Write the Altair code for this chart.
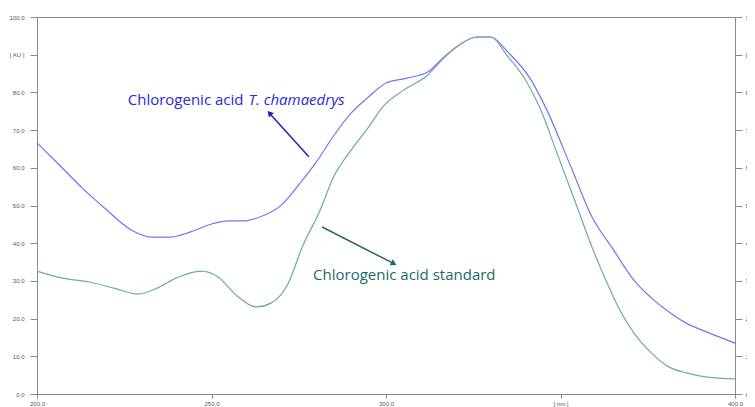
import altair as alt
import pandas as pd

# wavelength (nm) and absorbance (AU)
blue_x = [200, 207, 213, 220, 227, 233, 238, 244, 250, 255, 259, 264, 270, 275, 280, 285, 290, 295,
          300, 306, 312, 316, 321, 326, 330, 335, 341, 346, 353, 359, 365, 371, 376, 381, 386, 392, 400]
blue_y = [66.6, 60.2, 54.6, 48.8, 43.5, 41.6, 41.6, 43.0, 45.1, 45.9, 45.9, 47.0, 50.1, 55.5, 61.5,
          68.5, 74.5, 78.8, 82.5, 83.8, 85.4, 88.9, 92.6, 94.7, 94.7, 90.6, 84.1, 75.5, 60.2, 47.0,
          38.5, 30.2, 25.5, 21.8, 18.8, 16.4, 13.5]
teal_x = [200, 207, 215, 222, 229, 234, 240, 247, 252, 257, 263, 267, 272, 276, 281, 285, 290, 295,
          299, 305, 312, 316, 321, 326, 330, 335, 340, 344, 349, 355, 359, 363, 367, 371, 376, 381,
          386, 392, 400]
teal_y = [32.6, 30.8, 29.7, 28.1, 26.5, 27.9, 30.8, 32.6, 31.0, 26.3, 23.1, 24.1, 29.4, 39.0, 48.5,
          57.6, 64.7, 70.8, 76.1, 80.6, 84.6, 88.6, 92.6, 94.7, 94.7, 89.4, 83.3, 76.1, 63.9, 49.0,
          39.0, 30.2, 22.3, 16.2, 10.9, 7.2, 5.6, 4.5, 4.0]

x_ticks = [200, 250, 300, 350, 400]
y_ticks = [0, 10, 20, 30, 40, 50, 60, 70, 80, 90, 100]

# annotation texts and arrow endpoints (data units)
label_plain = ["Chlorogenic acid"]
label_italic = ["T. chamaedrys"]
label_std = ["Chlorogenic acid standard"]
arrow_blue = {"x": [277.9], "y": [62.9], "x2": [266.8], "y2": [74.3]}
arrow_teal = {"x": [281.7], "y": [44.3], "x2": [302.0], "y2": [34.7]}

BLUE_LINE = "#7474ee"
TEAL_LINE = "#6aada6"
BLUE_TXT = "#2a2ad4"
TEAL_TXT = "#1d6a65"
AXIS = "#8a8a8a"
FS = 15

xs = alt.Scale(domain=[200, 400], nice=False, zero=False)
ys = alt.Scale(domain=[0, 100], nice=False)

x_lab = "datum.value == 350 ? '[ nm ]' : format(datum.value, '.1f')"
y_lab = "datum.value == 90 ? '[ AU ]' : format(datum.value, '.1f')"

ax_common = dict(domainColor=AXIS, tickColor=AXIS, labelColor="#555", labelFontSize=6,
                 labelFont="Liberation Sans", grid=False, title=None, labelFlush=False,
                 labelOverlap=False)

x_axis = alt.Axis(values=x_ticks, labelExpr=x_lab, tickSize=4, labelPadding=2, **ax_common)
y_left = alt.Axis(values=y_ticks, labelExpr=y_lab, tickSize=7, labelPadding=6, orient="left",
                  **ax_common)
y_right = alt.Axis(values=y_ticks, labelExpr=y_lab, tickSize=7, labelPadding=3, orient="right",
                   **ax_common)

blue_df = pd.DataFrame({"x": blue_x, "y": blue_y})
teal_df = pd.DataFrame({"x": teal_x, "y": teal_y})


def X(f="x:Q"):
    return alt.X(f, scale=xs, axis=x_axis)


def Y(f="y:Q"):
    return alt.Y(f, scale=ys, axis=y_left)


blue_line = alt.Chart(blue_df).mark_line(color=BLUE_LINE, strokeWidth=1.2,
                                         interpolate="monotone").encode(x=X(), y=Y())
teal_line = alt.Chart(teal_df).mark_line(color=TEAL_LINE, strokeWidth=1.2,
                                         interpolate="monotone").encode(x=X(), y=Y())

ab = pd.DataFrame(arrow_blue)
at = pd.DataFrame(arrow_teal)
blue_arrow = alt.Chart(ab).mark_rule(color="#2424b8", strokeWidth=1.5).encode(
    x=X(), y=Y(), x2="x2:Q", y2="y2:Q")
blue_head = alt.Chart(ab).mark_point(shape="triangle", filled=True, size=45, angle=318,
                                     color="#2424b8", opacity=1).encode(x=X("x2:Q"), y=Y("y2:Q"))
teal_arrow = alt.Chart(at).mark_rule(color=TEAL_TXT, strokeWidth=1.5).encode(
    x=X(), y=Y(), x2="x2:Q", y2="y2:Q")
teal_head = alt.Chart(at).mark_point(shape="triangle", filled=True, size=45, angle=117,
                                     color=TEAL_TXT, opacity=1).encode(x=X("x2:Q"), y=Y("y2:Q"))

lbl1 = alt.Chart(pd.DataFrame({"t": label_plain, "x": [226.0], "y": [76.7]})).mark_text(
    align="left", baseline="alphabetic", font="Open Sans", fontSize=FS, color=BLUE_TXT).encode(
    x=X(), y=Y(), text="t:N")
lbl2 = alt.Chart(pd.DataFrame({"t": label_italic, "x": [260.6], "y": [76.7]})).mark_text(
    align="left", baseline="alphabetic", font="Open Sans", fontSize=FS, fontStyle="italic",
    color=BLUE_TXT).encode(x=X(), y=Y(), text="t:N")
lbl3 = alt.Chart(pd.DataFrame({"t": label_std, "x": [279.1], "y": [30.2]})).mark_text(
    align="left", baseline="alphabetic", font="Open Sans", fontSize=FS, color=TEAL_TXT).encode(
    x=X(), y=Y(), text="t:N")

main = alt.layer(blue_line, teal_line, blue_arrow, blue_head, teal_arrow, teal_head, lbl1, lbl2, lbl3)

# right-hand copy of the absorbance axis
right_axis = alt.Chart(teal_df).mark_line(opacity=0).encode(
    x=alt.X("x:Q", scale=xs, axis=x_axis),
    y=alt.Y("y:Q", scale=ys, axis=y_right))

chart = alt.layer(main, right_axis).resolve_scale(y="independent").properties(
    width=698, height=377,
    autosize=alt.AutoSizeParams(type="none"),
    padding={"left": 29, "top": 9, "right": 12, "bottom": 15},
    background="white",
).configure_view(stroke=AXIS, strokeWidth=1)

chart.save("out.html", embed_options={"renderer": "svg", "actions": False})
